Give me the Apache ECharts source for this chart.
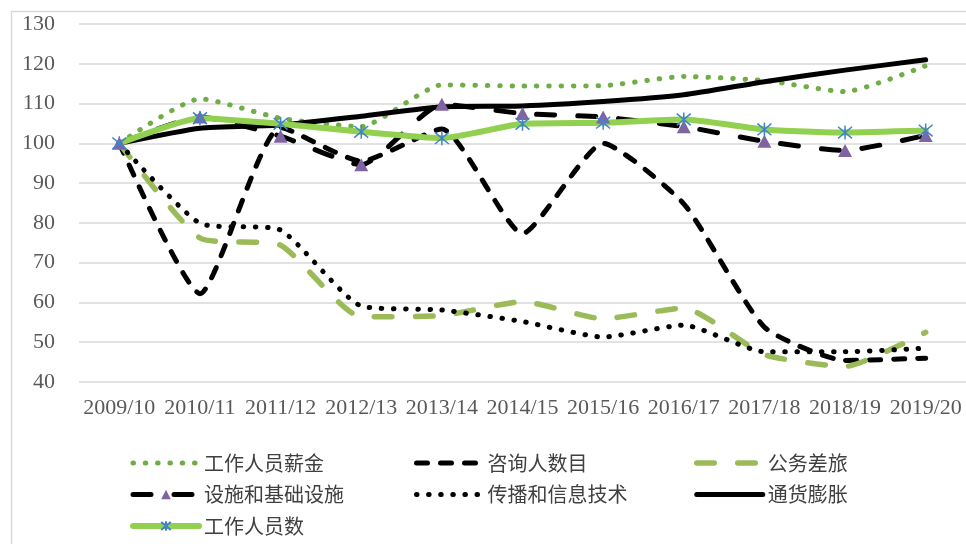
<!DOCTYPE html>
<html>
<head>
<meta charset="utf-8">
<script src="https://cdn.jsdelivr.net/npm/echarts@6/dist/echarts.min.js"></script>
<style>
html,body{margin:0;padding:0;background:#fff;}
#c{width:966px;height:544px;}
</style>
</head>
<body>
<div id="c"></div>
<script>
var categories = ['2009/10','2010/11','2011/12','2012/13','2013/14','2014/15','2015/16','2016/17','2017/18','2018/19','2019/20'];
var yTicks = {min: 40, max: 130, interval: 10};

var salary    = [100, 111.2, 106.3, 104.2, 114.7, 114.4, 114.5, 116.8, 115.8, 113.0, 119.5];
var consult   = [100, 62.2, 104.0, 95.5, 103.6, 77.3, 100.0, 84.8, 53.8, 45.4, 46.0];
var travel    = [100, 76.2, 74.4, 56.4, 56.7, 60.2, 55.9, 58.6, 46.9, 43.9, 52.5];
var infra     = [100, 106.6, 101.8, 94.6, 109.8, 107.5, 106.6, 104.2, 100.5, 98.2, 102.0];
var comms     = [100, 79.9, 78.2, 59.1, 58.1, 55.2, 51.3, 54.3, 47.6, 47.6, 48.5];
var inflation = [100, 103.8, 104.6, 106.8, 109.2, 109.4, 110.5, 112.2, 115.5, 118.4, 121.0];
var staff     = [100, 106.3, 104.9, 102.9, 101.3, 104.9, 105.2, 106.0, 103.5, 102.7, 103.2];

var names = ['工作人员薪金','咨询人数目','公务差旅','设施和基础设施','传播和信息技术','通货膨胀','工作人员数'];

var chart = echarts.init(document.getElementById('c'), null, {renderer: 'canvas'});
var SM = 0.18;
var star = 'path://M0,0L10,10M10,0L0,10M5,-1L5,11';

var styles = [
  {color: '#70AD47', width: 5,   type: [0.5, 11.8]},
  {color: '#000000', width: 5,   type: [11, 13]},
  {color: '#9BBB59', width: 5.5, type: [17.5, 23.5]},
  {color: '#000000', width: 5,   type: [18, 23]},
  {color: '#000000', width: 5,   type: [0.5, 11.6]},
  {color: '#000000', width: 5,   type: 'solid'},
  {color: '#92D050', width: 6,   type: 'solid'}
];
var hasSymbol = [false, false, false, true, false, false, true];

function legendItem(i) {
  var st = styles[i];
  return {
    name: names[i],
    lineStyle: {color: st.color, width: st.width, type: st.type, cap: 'round', opacity: 1},
    itemStyle: hasSymbol[i] ? {} : {opacity: 0}
  };
}
function legendCol(left, idx) {
  return {
    left: left, top: 448, orient: 'vertical',
    itemWidth: 66, itemHeight: 12, itemGap: 11.5,
    data: idx.map(legendItem), selectedMode: false,
    textStyle: {fontFamily: 'Noto Sans CJK SC', fontSize: 20, color: '#404040', lineHeight: 20}
  };
}
function lineSeries(i, data, extra) {
  var st = styles[i];
  var s = {
    name: names[i], type: 'line', data: data, smooth: SM, symbol: 'none',
    itemStyle: {color: st.color},
    lineStyle: {color: st.color, width: st.width, type: st.type, cap: 'round', join: 'round'}
  };
  for (var k in extra) s[k] = extra[k];
  return s;
}

var option = {
  animation: false,
  backgroundColor: '#fff',
  graphic: [{
    type: 'rect', silent: true, z: -10,
    shape: {x: 11.5, y: 11.5, width: 970, height: 550},
    style: {fill: 'none', stroke: '#d9d9d9', lineWidth: 1.5}
  }],
  grid: {left: 79, right: 0, top: 24, bottom: 162, containLabel: false},
  legend: [
    legendCol(125, [0, 3, 6]),
    legendCol(409, [1, 4]),
    legendCol(689, [2, 5])
  ],
  xAxis: {
    type: 'category', data: categories, boundaryGap: true,
    axisLine: {show: false}, axisTick: {show: false},
    axisLabel: {fontFamily: 'Liberation Serif', fontSize: 22, color: '#595959', margin: 15, interval: 0}
  },
  yAxis: {
    type: 'value', min: yTicks.min, max: yTicks.max, interval: yTicks.interval,
    axisLine: {show: false}, axisTick: {show: false},
    axisLabel: {fontFamily: 'Liberation Serif', fontSize: 22, color: '#595959', margin: 24},
    splitLine: {lineStyle: {color: '#d9d9d9', width: 1.5}}
  },
  series: [
    lineSeries(0, salary, {}),
    lineSeries(1, consult, {}),
    lineSeries(2, travel, {}),
    lineSeries(3, infra, {symbol: 'triangle', symbolSize: [14, 13], showAllSymbol: true,
      itemStyle: {color: '#8064A2'}}),
    lineSeries(4, comms, {}),
    lineSeries(5, inflation, {}),
    lineSeries(6, staff, {symbol: star, symbolSize: 14, showAllSymbol: true,
      itemStyle: {color: 'rgba(0,0,0,0)', borderColor: '#3F83CC', borderWidth: 1.5}})
  ]
};
chart.setOption(option);
</script>
</body>
</html>
